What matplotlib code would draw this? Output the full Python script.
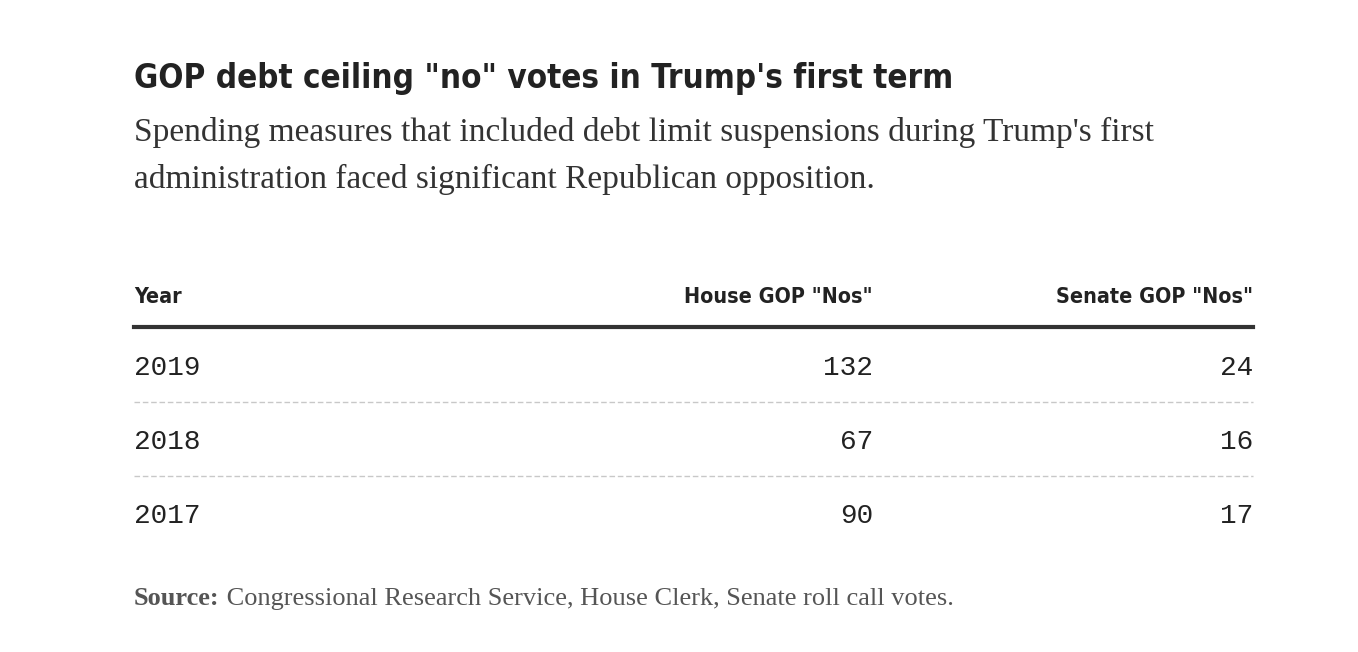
import matplotlib
matplotlib.use("Agg")
import matplotlib.pyplot as plt
from matplotlib.lines import Line2D

W, H = 1358, 652

title = "GOP debt ceiling \"no\" votes in Trump's first term"
subtitle = ["Spending measures that included debt limit suspensions during Trump's first",
            "administration faced significant Republican opposition."]
headers = ["Year", "House GOP \"Nos\"", "Senate GOP \"Nos\""]
years = ["2019", "2018", "2017"]
house_nos = [132, 67, 90]
senate_nos = [24, 16, 17]
source_label = "Source:"
source_text = " Congressional Research Service, House Clerk, Senate roll call votes."

cond = ["DejaVu Sans"]
serif = ["Liberation Serif", "DejaVu Serif"]
mono = ["Liberation Mono", "DejaVu Sans Mono"]


def px(x, y):
    return x / W, 1 - y / H


fig = plt.figure(figsize=(W / 100, H / 100), dpi=100)
fig.patch.set_facecolor("white")

left, col2, col3 = 134, 873, 1253

fig.text(*px(left, 88), title, family=cond, stretch="condensed", weight="bold",
         fontsize=23.8, color="#222222", va="baseline")
for i, line in enumerate(subtitle):
    fig.text(*px(left, 141 + i * 47), line, family=serif, fontsize=24,
             color="#333333", va="baseline")

for x, h, ha in zip([left, col2, col3], headers, ["left", "right", "right"]):
    fig.text(*px(x, 303), h, family=cond, stretch="condensed", weight="bold",
             fontsize=15.4, color="#222222", va="baseline", ha=ha)

fig.add_artist(Line2D([left / W, col3 / W], [1 - 327 / H] * 2, color="#333333",
                      lw=3, transform=fig.transFigure))

row0, step = 375, 74
for i, (yr, hn, sn) in enumerate(zip(years, house_nos, senate_nos)):
    yb = row0 + i * step
    fig.text(*px(left, yb), yr, family=mono, fontsize=20, color="#222222",
             va="baseline")
    fig.text(*px(col2, yb), str(hn), family=mono, fontsize=20, color="#222222",
             va="baseline", ha="right")
    fig.text(*px(col3, yb), str(sn), family=mono, fontsize=20, color="#222222",
             va="baseline", ha="right")
    if i < len(years) - 1:
        yl = 402 + i * step
        fig.add_artist(Line2D([left / W, col3 / W], [1 - yl / H] * 2,
                              color="#c8c8c8", lw=1, dashes=(4, 2),
                              transform=fig.transFigure))

src = fig.text(*px(left, 605), source_label, family=serif, weight="bold",
               fontsize=19, color="#555555", va="baseline")
fig.canvas.draw()
bb = src.get_window_extent()
fig.text(bb.x1 / W, 1 - 605 / H, source_text, family=serif, fontsize=19,
         color="#555555", va="baseline")

fig.savefig("out.png", dpi=100)
